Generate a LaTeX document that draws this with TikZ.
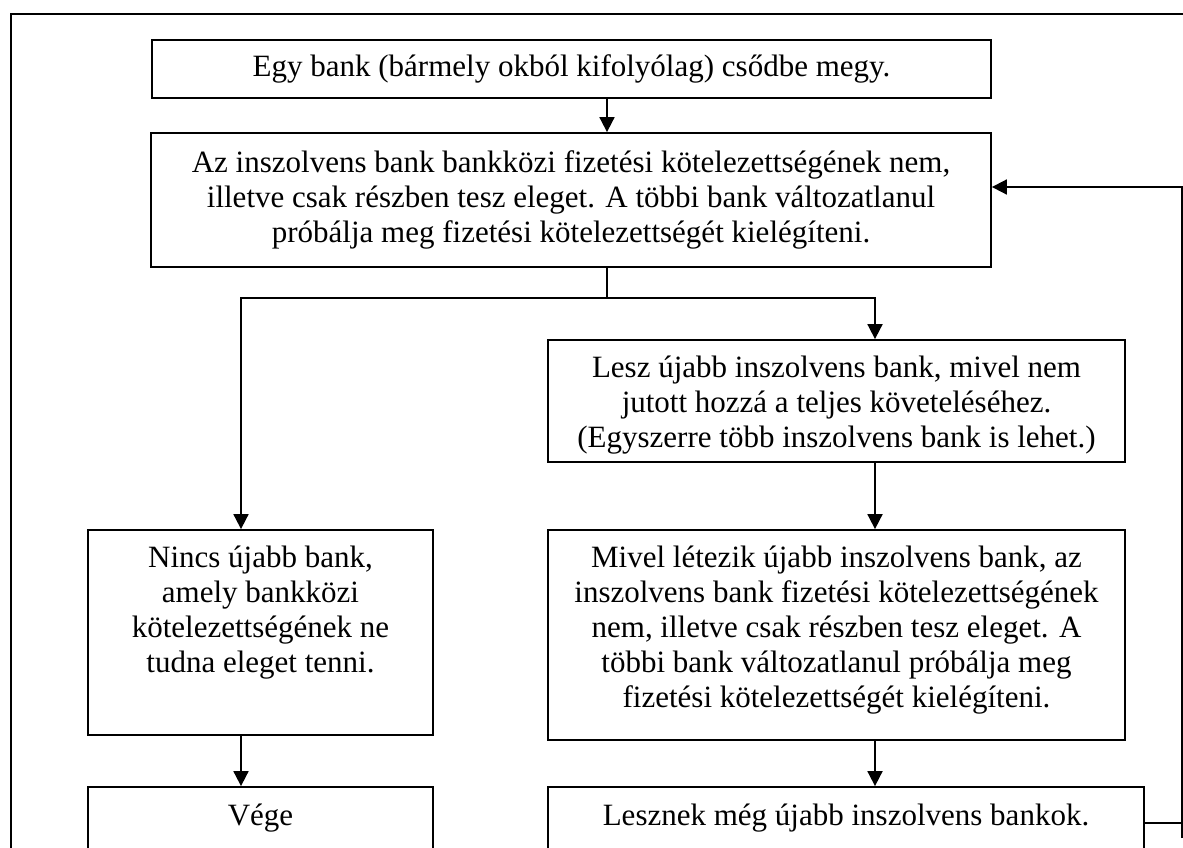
\documentclass[tikz,border=0pt]{standalone}
\usepackage{fontspec}
\setmainfont{Liberation Serif}
\usetikzlibrary{arrows.meta}
\begin{document}
\begin{tikzpicture}[x=1pt,y=-1pt,
  box/.style={draw, line width=1.8pt, inner sep=0pt, align=center, font=\fontsize{31}{35}\selectfont},
  txt/.style={inner sep=0pt, align=center, font=\fontsize{31}{35}\selectfont},
  ln/.style={line width=1.8pt},
  arr/.style={line width=1.8pt, -{Triangle[length=15pt,width=15pt]}}]
\useasboundingbox (0,0) rectangle (1183,847);
\draw[ln] (11,900) -- (11,14) -- (1200,14);

\node[box, minimum width=839, minimum height=58] (b1) at (571.5,69) {Egy bank (bármely okból kifolyólag) csődbe megy.};
\node[box, minimum width=840, minimum height=134] (b2) at (571,200) {Az inszolvens bank bankközi fizetési kötelezettségének nem,\\ illetve csak részben tesz eleget. A többi bank változatlanul\\ próbálja meg fizetési kötelezettségét kielégíteni.};
\node[box, minimum width=577, minimum height=122] (b4) at (836.5,401) {};
\node[txt, anchor=north] (t4) at ([yshift=-17pt]b4.north) {Lesz újabb inszolvens bank, mivel nem\\ jutott hozzá a teljes követeléséhez.\\ (Egyszerre több inszolvens bank is lehet.)};
\node[box, minimum width=577, minimum height=210] (b5) at (836.5,635) {};
\node[txt, anchor=north] (t5) at ([yshift=-17pt]b5.north) {Mivel létezik újabb inszolvens bank, az\\ inszolvens bank fizetési kötelezettségének\\ nem, illetve csak részben tesz eleget. A\\ többi bank változatlanul próbálja meg\\ fizetési kötelezettségét kielégíteni.};
\node[box, minimum width=345, minimum height=205] (b3) at (260.5,632.5) {};
\node[txt, anchor=north] (t3) at ([yshift=-17pt]b3.north) {Nincs újabb bank,\\ amely bankközi\\ kötelezettségének ne\\ tudna eleget tenni.};
\node[box, minimum width=596, minimum height=62] (b6) at (846,818) {Lesznek még újabb inszolvens bankok.};
\node[box, minimum width=345, minimum height=62] (b7) at (260.5,818) {Vége};

\coordinate (xm) at (607,0);
\coordinate (xl) at (241,0);
\coordinate (xr) at (875,0);
\coordinate (j) at (607,298);
\coordinate (fb) at (1182,823);
\coordinate (fbt) at (1182,838);
\coordinate (ret) at (1182,187);

\draw[arr] (b1.south -| xm) -- (b2.north -| xm);
\draw[ln] (b2.south -| xm) -- (j);
\draw[arr] (j) -- (j -| xl) -- (b3.north -| xl);
\draw[arr] (j) -- (j -| xr) -- (b4.north -| xr);
\draw[arr] (b4.south -| xr) -- (b5.north -| xr);
\draw[arr] (b5.south -| xr) -- (b6.north -| xr);
\draw[arr] (b3.south -| xl) -- (b7.north -| xl);
\draw[ln] (b6.east |- fb) -- (fb);
\draw[arr] (fbt) -- (ret) -- (b2.east |- ret);
\end{tikzpicture}
\end{document}
